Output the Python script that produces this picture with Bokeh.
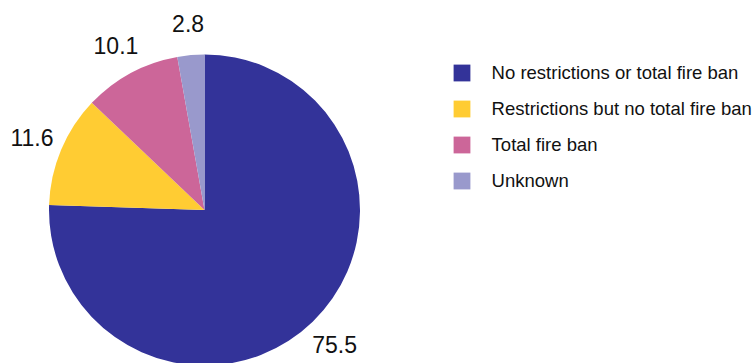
import numpy as np
from bokeh.plotting import figure
from bokeh.models import ColumnDataSource, Legend, LegendItem, Range1d
from bokeh.embed import file_html
from bokeh.resources import INLINE
from bokeh.core.properties import value

categories = ["No restrictions or total fire ban",
              "Restrictions but no total fire ban",
              "Total fire ban",
              "Unknown"]
values = [75.5, 11.6, 10.1, 2.8]
colors = ["#333399", "#FFCC33", "#CC6699", "#9999CC"]

W, H = 756, 363
CX, CY, R = 204, 153.5, 155.5
LABEL_R = 187

vals = np.array(values, dtype=float)
frac = vals / vals.sum()
cum_after = np.cumsum(frac)
cum_before = cum_after - frac
start = np.pi / 2 - 2 * np.pi * cum_before
end = np.pi / 2 - 2 * np.pi * cum_after
mid = np.pi / 2 - 2 * np.pi * (cum_before + frac / 2)

src = ColumnDataSource(dict(
    cat=categories, val=values, color=colors,
    start=start, end=end,
    lx=CX + LABEL_R * np.cos(mid), ly=CY + LABEL_R * np.sin(mid),
    label=[f"{v:.1f}" for v in values],
))

p = figure(width=W, height=H, output_backend="svg", toolbar_location=None,
           x_range=Range1d(0, W), y_range=Range1d(0, H),
           x_axis_type=None, y_axis_type=None, min_border=0)
p.grid.visible = False
p.outline_line_color = None
p.background_fill_color = "white"
p.border_fill_color = "white"

r = p.wedge(x=CX, y=CY, radius=R, start_angle="start", end_angle="end",
            direction="clock", fill_color="color", line_color=None, source=src)

p.text(x="lx", y="ly", text="label", source=src, text_align="center",
       text_baseline="middle", text_font=value("Liberation Sans"),
       text_font_size="23px", text_color="#111111")

items = [LegendItem(label=c, renderers=[r], index=i) for i, c in enumerate(categories)]
legend = Legend(items=items, location=(450.6, 171.2),
                glyph_width=21, glyph_height=21, label_height=21,
                spacing=14, label_standoff=20, padding=0, margin=0,
                border_line_color=None, background_fill_alpha=0,
                label_text_font="Liberation Sans", label_text_font_size="18.5px",
                label_text_color="#111111", label_text_baseline="middle")
p.add_layout(legend, "center")

open("out.html", "w").write(file_html(p, INLINE))
